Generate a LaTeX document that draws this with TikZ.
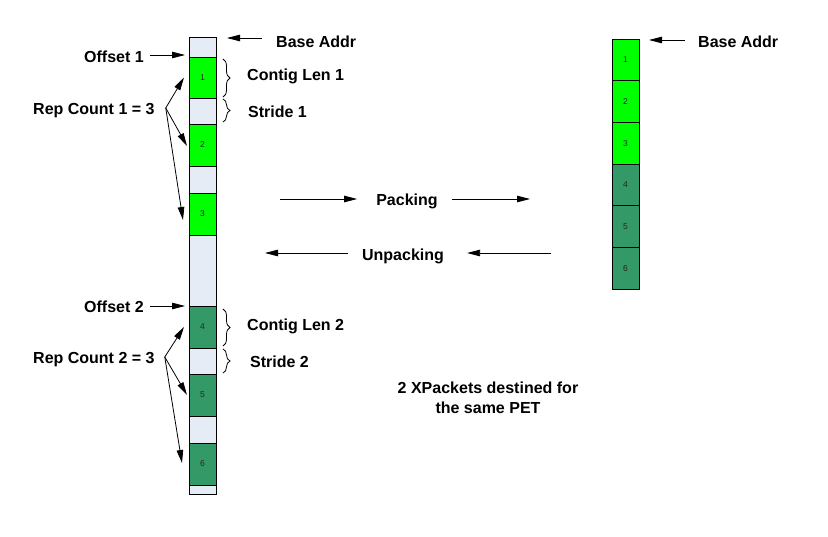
\documentclass[tikz,border=0pt]{standalone}
\usepackage{fontspec}
\setmainfont{Liberation Sans}
\usetikzlibrary{positioning,arrows.meta,decorations.pathreplacing}

\definecolor{brightGreen}{RGB}{0,255,0}
\definecolor{darkGreen}{RGB}{51,153,102}
\definecolor{gapGray}{RGB}{230,236,245}

\tikzset{
    cell/.style={draw, line width=0.9pt, minimum width=27pt, inner sep=0pt, outer sep=0pt,
        font=\fontsize{8.5}{10}\selectfont, text=black!85},
    dataA/.style={cell, fill=brightGreen, minimum height=42pt},
    dataB/.style={cell, fill=darkGreen, minimum height=42pt},
    gapcell/.style={cell, fill=gapGray},
    lbl/.style={font=\bfseries\fontsize{16}{20}\selectfont, inner sep=0pt},
    pointer/.style={-{Triangle[length=13pt,width=6.5pt]}, line width=0.8pt},
    curly/.style={decorate, decoration={brace, amplitude=7pt}, line width=0.8pt},
}

\begin{document}
\begin{tikzpicture}[x=1pt, y=-1pt]
    \useasboundingbox (0,0) rectangle (828,537);

    % Strided buffer
        % variables
        \def\colLX{202.5}

        % cells
        \node[gapcell, minimum height=20pt] (g0) at (\colLX, 47) {};
        \node[dataA, minimum height=41pt, below=0pt of g0] (c1) {1};
        \node[gapcell, minimum height=26pt, below=0pt of c1] (g1) {};
        \node[dataA, below=0pt of g1] (c2) {2};
        \node[gapcell, minimum height=27pt, below=0pt of c2] (g2) {};
        \node[dataA, below=0pt of g2] (c3) {3};
        \node[gapcell, minimum height=71pt, below=0pt of c3] (g3) {};
        \node[dataB, below=0pt of g3] (c4) {4};
        \node[gapcell, minimum height=26pt, below=0pt of c4] (g4) {};
        \node[dataB, below=0pt of g4] (c5) {5};
        \node[gapcell, minimum height=27pt, below=0pt of c5] (g5) {};
        \node[dataB, below=0pt of g5] (c6) {6};
        \node[gapcell, minimum height=9pt, below=0pt of c6] (g6) {};

    % Packed buffer
        % variables
        \def\colRX{625.5}

        % cells
        \node[dataA, minimum height=41.7pt] (p1) at (\colRX, 59.85) {1};
        \node[dataA, minimum height=41.7pt, below=0pt of p1] (p2) {2};
        \node[dataA, minimum height=41.7pt, below=0pt of p2] (p3) {3};
        \node[dataB, minimum height=41.7pt, below=0pt of p3] (p4) {4};
        \node[dataB, minimum height=41.7pt, below=0pt of p4] (p5) {5};
        \node[dataB, minimum height=41.7pt, below=0pt of p5] (p6) {6};

    % First XPacket
        \node[lbl, anchor=west] (baseL) at (276,42) {Base Addr};
        \draw[pointer] ([xshift=-14pt,yshift=4pt]baseL.west) -- ([xshift=11pt,yshift=-1pt]g0.north east);

        \node[lbl, anchor=west] (off1) at (84,57) {Offset 1};
        \draw[pointer] ([xshift=6pt,yshift=2pt]off1.east) -- ([xshift=-4pt,yshift=2pt]g0.south west);

        \node[lbl, anchor=west] (len1) at (247,76) {Contig Len 1};
        \draw[curly] ([xshift=7pt,yshift=-2pt]c1.north east) -- ([xshift=7pt,yshift=1pt]c1.south east);

        \node[lbl, anchor=west] (str1) at (248,112) {Stride 1};
        \draw[curly] ([xshift=7pt,yshift=-1pt]g1.north east) -- ([xshift=7pt,yshift=2pt]g1.south east);

        \node[lbl, anchor=west] (rep1) at (33,111) {Rep Count 1 = 3};
        \coordinate (rep1src) at ([xshift=11pt,yshift=3pt]rep1.east);
        \draw[pointer] (rep1src) -- ([xshift=-5pt]c1.west);
        \draw[pointer] (rep1src) -- ([xshift=-2pt,yshift=-1pt]c2.west);
        \draw[pointer] (rep1src) -- ([xshift=-6pt,yshift=-6pt]c3.west);

    % Second XPacket
        \node[lbl, anchor=west] (off2) at (84,307) {Offset 2};
        \draw[pointer] ([xshift=6pt,yshift=1pt]off2.east) -- ([xshift=-4pt]c4.north west);

        \node[lbl, anchor=west] (len2) at (247,326) {Contig Len 2};
        \draw[curly] ([xshift=7pt,yshift=-3pt]c4.north east) -- ([xshift=7pt,yshift=2pt]c4.south east);

        \node[lbl, anchor=west] (str2) at (250,362) {Stride 2};
        \draw[curly] ([xshift=7pt,yshift=-1pt]g4.north east) -- ([xshift=7pt,yshift=1pt]g4.south east);

        \node[lbl, anchor=west] (rep2) at (33,360) {Rep Count 2 = 3};
        \coordinate (rep2src) at ([xshift=10pt,yshift=3pt]rep2.east);
        \draw[pointer] (rep2src) -- ([xshift=-5pt]c4.west);
        \draw[pointer] (rep2src) -- ([xshift=-2pt]c5.west);
        \draw[pointer] (rep2src) -- ([xshift=-7pt,yshift=1pt]c6.west);

    % Packing / unpacking
        \node[lbl] (pack) at (407,201) {Packing};
        \coordinate (packIn) at (280,199);
        \coordinate (packOut) at (530,199);
        \draw[pointer] (packIn) -- ([xshift=-19pt,yshift=2pt]pack.west);
        \draw[pointer] ([xshift=14pt,yshift=2pt]pack.east) -- (packOut);

        \node[lbl] (unpack) at (403,256) {Unpacking};
        \coordinate (unpackIn) at (551,253);
        \coordinate (unpackOut) at (265,253);
        \draw[pointer] (unpackIn) -- ([xshift=23pt,yshift=3pt]unpack.east);
        \draw[pointer] ([xshift=-14pt,yshift=3pt]unpack.west) -- (unpackOut);

    % Packed side
        \node[lbl, anchor=west] (baseR) at (698,42) {Base Addr};
        \draw[pointer] ([xshift=-13pt,yshift=2pt]baseR.west) -- ([xshift=10pt,yshift=-1pt]p1.north east);

        \node[lbl, align=center] (note) at (488,398) {2 XPackets destined for\\the same PET};
\end{tikzpicture}
\end{document}
